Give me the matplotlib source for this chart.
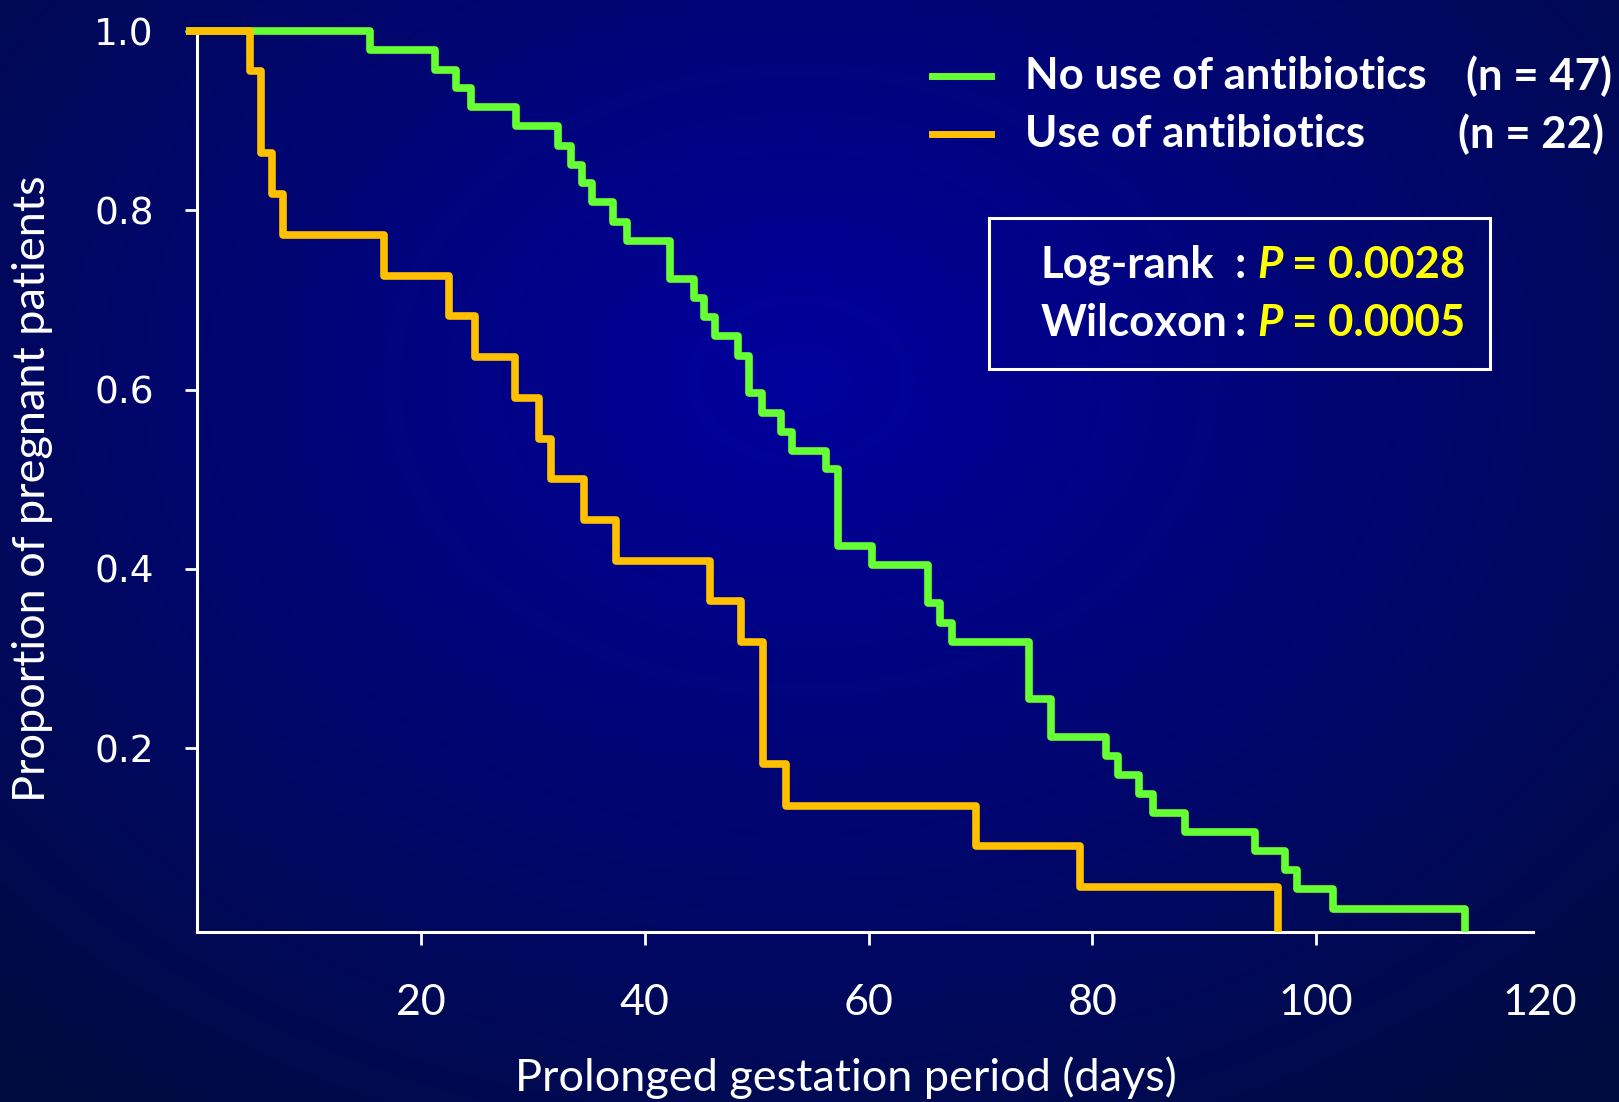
import numpy as np
import matplotlib
matplotlib.use('Agg')
import matplotlib.pyplot as plt
from matplotlib.lines import Line2D
from matplotlib.patches import Rectangle

# Kaplan-Meier curves: event day and proportion still pregnant after it
no_abx_days = [15.5, 21.3, 23.1, 24.5, 28.5, 32.3, 33.4, 34.4, 35.3, 37.2,
               38.4, 42.3, 44.4, 45.3, 46.3, 48.3, 49.3, 50.5, 52.2, 53.2,
               56.2, 57.3, 60.3, 65.3, 66.4, 67.5, 74.3, 76.3, 81.2, 82.3,
               84.2, 85.4, 88.3, 94.5, 97.2, 98.3, 101.5, 113.3]
no_abx_surv = [0.979, 0.957, 0.936, 0.915, 0.894, 0.872, 0.851, 0.830, 0.809, 0.787,
               0.766, 0.723, 0.702, 0.681, 0.660, 0.638, 0.596, 0.574, 0.553, 0.532,
               0.511, 0.426, 0.404, 0.362, 0.340, 0.319, 0.255, 0.213, 0.191, 0.170,
               0.149, 0.128, 0.106, 0.085, 0.064, 0.043, 0.021, 0.0]

abx_days = [4.7, 5.7, 6.7, 7.7, 16.7, 22.5, 24.8, 28.4, 30.6, 31.6,
            34.6, 37.4, 45.8, 48.6, 50.6, 52.6, 69.6, 78.9, 96.6]
abx_surv = [0.955, 0.864, 0.818, 0.773, 0.727, 0.682, 0.636, 0.591, 0.545, 0.500,
            0.455, 0.409, 0.364, 0.318, 0.182, 0.136, 0.091, 0.045, 0.0]

xticks = [20, 40, 60, 80, 100, 120]
yticks = [0.2, 0.4, 0.6, 0.8, 1.0]

GREEN = '#66FF33'
ORANGE = '#FFC000'
YELLOW = '#FFFF00'
W, H = 1619, 1102

def fx(x):
    return x / W

def fy(y):
    return 1 - y / H

fig = plt.figure(figsize=(W / 100, H / 100), dpi=100)

# radial blue backdrop
bg = fig.add_axes([0, 0, 1, 1], zorder=-10)
yy, xx = np.mgrid[0:H, 0:W]
r = np.sqrt(((xx - 800) / 1000.0) ** 2 + ((yy - 380) / 760.0) ** 2)
t = np.clip(r / 1.2, 0, 1)
img = np.zeros((H, W, 3))
img[..., 1] = (12 * t) / 255
img[..., 2] = (158 - 95 * t) / 255
bg.imshow(img, aspect='auto', interpolation='bilinear')
bg.axis('off')

ax = fig.add_axes([fx(197), fy(932), fx(1540) - fx(197), fy(31) - fy(932)])
ax.set_facecolor('none')

ax.plot([-0.6] + no_abx_days, [1.0] + no_abx_surv, drawstyle='steps-post',
        color=GREEN, lw=5.5, solid_joinstyle='round', clip_on=False, zorder=3)
ax.plot([-0.6] + abx_days, [1.0] + abx_surv, drawstyle='steps-post',
        color=ORANGE, lw=5.5, solid_joinstyle='round', clip_on=False, zorder=4)

ax.set_xlim(0, 120)
ax.set_ylim(-0.005, 1.0)

for s in ['top', 'right']:
    ax.spines[s].set_visible(False)
for s in ['left', 'bottom']:
    ax.spines[s].set_color('white')
    ax.spines[s].set_linewidth(2.2)
ax.spines['bottom'].set_bounds(0, 119.4)

ax.set_xticks(xticks)
ax.set_xticklabels([str(v) for v in xticks], fontfamily='Lato', fontsize=31, color='white')
ax.set_yticks(yticks)
ax.set_yticklabels(['%.1f' % v for v in yticks], fontfamily='DejaVu Sans', fontsize=27, color='white')
ax.tick_params(axis='x', length=9.6, width=2, color='white', pad=28)
ax.tick_params(axis='y', length=9, width=2, color='white', pad=22)
ax.xaxis.get_major_ticks()[-1].tick1line.set_visible(False)

fig.text(fx(33), fy(489), 'Proportion of pregnant patients', rotation=90,
         ha='center', va='center', fontfamily='Lato', fontsize=32.5, color='white')
fig.text(fx(846), fy(1078), 'Prolonged gestation period (days)',
         ha='center', va='center', fontfamily='Lato', fontsize=32.5, color='white')

# legend
for y, col, lab, n, nx in [(76, GREEN, 'No use of antibiotics', '(n = 47)', 1466),
                           (134, ORANGE, 'Use of antibiotics', '(n = 22)', 1458)]:
    fig.add_artist(Line2D([fx(932), fx(991)], [fy(y), fy(y)], color=col, lw=5))
    fig.text(fx(1025), fy(y), lab, ha='left', va='center', fontfamily='Lato',
             fontweight='bold', fontsize=31.5, color='white')
    fig.text(fx(nx), fy(y), n, ha='left', va='center', fontfamily='Lato',
             fontweight='bold', fontsize=31.5, color='white')

# test results box
fig.add_artist(Rectangle((fx(989), fy(369)), fx(1490) - fx(989), fy(218) - fy(369),
                         transform=fig.transFigure, fill=False, ec='white', lw=2.2))
for y, name, p in [(265, 'Log-rank', '0.0028'), (323, 'Wilcoxon', '0.0005')]:
    fig.text(fx(1041), fy(y), name, ha='left', va='center', fontfamily='Lato',
             fontweight='bold', fontsize=31.5, color='white')
    fig.text(fx(1240), fy(y), ':', ha='center', va='center', fontfamily='Lato',
             fontweight='bold', fontsize=31.5, color='white')
    fig.text(fx(1257), fy(y), 'P', ha='left', va='center', fontfamily='Lato',
             fontweight='bold', fontstyle='italic', fontsize=31.5, color=YELLOW)
    fig.text(fx(1292), fy(y), '= ' + p, ha='left', va='center', fontfamily='Lato',
             fontweight='bold', fontsize=31.5, color=YELLOW)

fig.savefig('out.png', dpi=100)
